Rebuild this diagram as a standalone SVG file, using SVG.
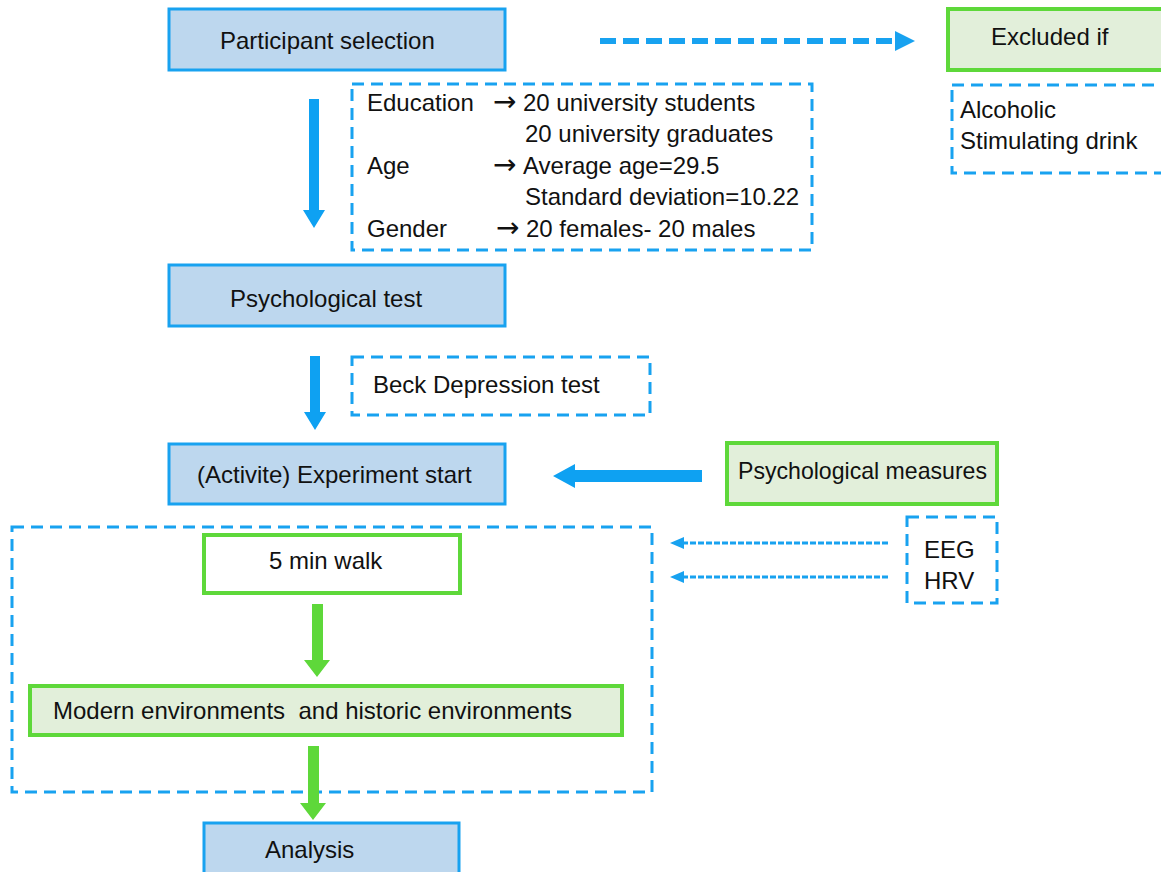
<svg xmlns="http://www.w3.org/2000/svg" width="1161" height="872" viewBox="0 0 1161 872">
<style>
text{font-family:"Liberation Sans",Arial,sans-serif;font-size:24px;fill:#111;white-space:pre}
.arr{font-family:"DejaVu Sans",sans-serif;font-size:28px}
.bluebox{fill:#BDD7EE;stroke:#18A2F0;stroke-width:3}
.greenbox{fill:#E2EFDA;stroke:#5ED83A;stroke-width:4}
.whitebox{fill:#fff;stroke:#5ED83A;stroke-width:4}
.dash{fill:none;stroke:#18A2F0;stroke-width:3;stroke-dasharray:12 7}
.barrow{fill:#0EA1F2}
.garrow{fill:#5ED83A}
</style>
<rect width="1161" height="872" fill="#fff"/>

<g id="participant-selection">
<rect class="bluebox" x="169" y="9" width="336" height="61"/>
<text x="220" y="49">Participant selection</text>
</g>

<g id="excluded-if">
<rect class="greenbox" x="948" y="9" width="218" height="61"/>
<text x="991" y="45">Excluded if</text>
</g>

<g id="exclusion-list">
<rect class="dash" x="952" y="85" width="215" height="88"/>
<text x="960" y="118">Alcoholic</text>
<text x="960" y="149">Stimulating drink</text>
</g>

<g id="participant-details">
<rect class="dash" x="352" y="84" width="460" height="166"/>
<text x="367" y="111">Education</text>
<text class="arr" x="493" y="111">→</text>
<text x="523" y="111">20 university students</text>
<text x="525" y="142">20 university graduates</text>
<text x="367" y="174">Age</text>
<text class="arr" x="493" y="174">→</text>
<text x="523" y="174">Average age=29.5</text>
<text x="525" y="205">Standard deviation=10.22</text>
<text x="367" y="237">Gender</text>
<text class="arr" x="496" y="237">→</text>
<text x="526" y="237">20 females- 20 males</text>
</g>

<g id="psychological-test">
<rect class="bluebox" x="169" y="265" width="336" height="61"/>
<text x="230" y="307">Psychological test</text>
</g>

<g id="beck-test">
<rect class="dash" x="352" y="357" width="298" height="58"/>
<text x="373" y="393">Beck Depression test</text>
</g>

<g id="experiment-start">
<rect class="bluebox" x="169" y="444" width="336" height="60"/>
<text x="197" y="483">(Activite) Experiment start</text>
</g>

<g id="psychological-measures">
<rect class="greenbox" x="727" y="443" width="270" height="61"/>
<text x="738" y="479" textLength="249" lengthAdjust="spacingAndGlyphs">Psychological measures</text>
</g>

<g id="activity-group">
<rect class="dash" x="12" y="527" width="640" height="265"/>
</g>

<g id="eeg-hrv">
<rect class="dash" x="907" y="517" width="90" height="86"/>
<text x="924" y="558">EEG</text>
<text x="924" y="589">HRV</text>
</g>

<g id="walk">
<rect class="whitebox" x="204" y="535" width="256" height="58"/>
<text x="269" y="569">5 min walk</text>
</g>

<g id="environments">
<rect class="greenbox" x="30" y="686" width="592" height="49"/>
<text x="53" y="719">Modern environments  and historic environments</text>
</g>

<g id="analysis">
<rect class="bluebox" x="204" y="823" width="255" height="52"/>
<text x="265" y="858">Analysis</text>
</g>

<g id="connectors">
<line x1="600" y1="41" x2="897" y2="41" stroke="#18A2F0" stroke-width="6" stroke-dasharray="16 7"/>
<polygon points="895,31 915,41 895,51" fill="#18A2F0"/>
<polygon class="barrow" points="309,99 319,99 319,210 325,210 314,228 303,210 309,210"/>
<polygon class="barrow" points="310,356 320,356 320,412 326,412 315,430 304,412 310,412"/>
<polygon class="barrow" points="702,470 702,482 575,482 575,488 553,476 575,464 575,470"/>
<line x1="888" y1="543" x2="682" y2="543" stroke="#18A2F0" stroke-width="3" stroke-dasharray="6 2"/>
<polygon points="684,537 670,543 684,549" fill="#18A2F0"/>
<line x1="888" y1="577" x2="682" y2="577" stroke="#18A2F0" stroke-width="3" stroke-dasharray="6 2"/>
<polygon points="684,571 670,577 684,583" fill="#18A2F0"/>
<polygon class="garrow" points="312,604 323,604 323,660 330,660 317,677 304,660 312,660"/>
<polygon class="garrow" points="308,746 319,746 319,803 326,803 313,820 300,803 308,803"/>
</g>
</svg>
